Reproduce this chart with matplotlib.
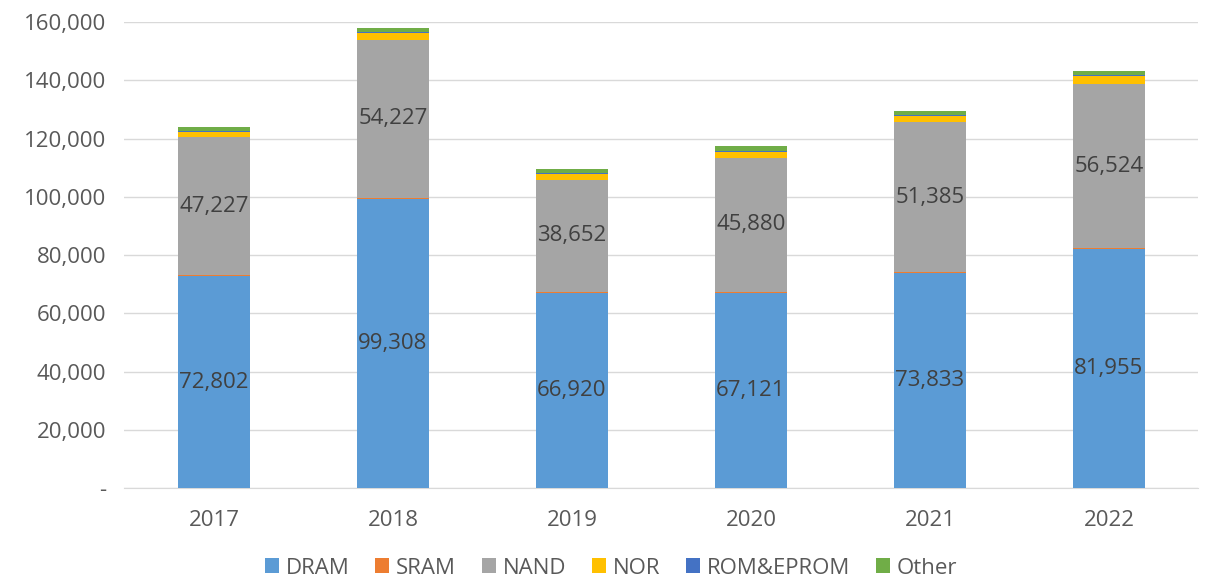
import numpy as np
import matplotlib.pyplot as plt
from matplotlib.ticker import FuncFormatter

plt.rcParams['font.family'] = ['Open Sans', 'DejaVu Sans']

years = ['2017', '2018', '2019', '2020', '2021', '2022']
dram = [72802, 99308, 66920, 67121, 73833, 81955]
sram = [350, 350, 330, 330, 340, 350]
nand = [47227, 54227, 38652, 45880, 51385, 56524]
nor = [2000, 2300, 2000, 2200, 2200, 2500]
rom = [350, 450, 350, 350, 350, 400]
other = [1400, 1400, 1400, 1400, 1400, 1400]

series = [
    ('DRAM', dram, '#5B9BD5'),
    ('SRAM', sram, '#ED7D31'),
    ('NAND', nand, '#A5A5A5'),
    ('NOR', nor, '#FFC000'),
    ('ROM&EPROM', rom, '#4472C4'),
    ('Other', other, '#70AD47'),
]

fig = plt.figure(figsize=(12.05, 5.8), dpi=100)
ax = fig.add_axes([0.1033, 0.1586, 0.8913, 0.8034])

x = np.arange(len(years))
bottom = np.zeros(len(years))
for name, vals, col in series:
    vals = np.array(vals, dtype=float)
    ax.bar(x, vals, 0.4, bottom=bottom, color=col, label=name, zorder=3)
    if name in ('DRAM', 'NAND'):
        for xi, b, v in zip(x, bottom, vals):
            ax.text(xi, b + v / 2, f'{int(v):,}', ha='center', va='center',
                    fontsize=16, color='#404040', zorder=4)
    bottom += vals

ax.set_xlim(-0.5, len(years) - 0.5)
ax.set_ylim(0, 160000)
ax.set_yticks(np.arange(0, 160001, 20000))
ax.yaxis.set_major_formatter(FuncFormatter(lambda v, p: '-' if v == 0 else f'{int(v):,}'))
ax.set_xticks(x)
ax.set_xticklabels(years)
ax.grid(axis='y', color='#D9D9D9', linewidth=1, zorder=0)
for s in ['top', 'right', 'left']:
    ax.spines[s].set_visible(False)
ax.spines['bottom'].set_color('#D9D9D9')
ax.tick_params(axis='both', length=0, labelsize=16, labelcolor='#595959')
ax.tick_params(axis='x', pad=16)
ax.tick_params(axis='y', pad=13)

ax.legend(loc='center', bbox_to_anchor=(0.453, -0.172), ncol=6, frameon=False,
          fontsize=16, handlelength=0.65, handleheight=0.65, handletextpad=0.3,
          columnspacing=1.15, labelcolor='#595959', borderpad=0.2)

fig.savefig('out.png', dpi=100)
